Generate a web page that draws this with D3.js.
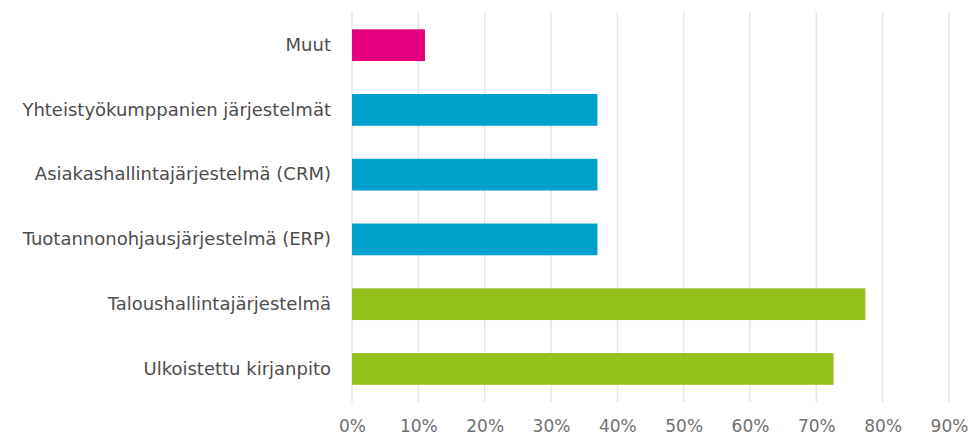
<!DOCTYPE html>
<html>
<head>
<meta charset="utf-8">
<script src="https://cdn.jsdelivr.net/npm/d3@7"></script>
<style>
  body { margin: 0; background: #fff; }
  svg text { font-family: "DejaVu Sans", sans-serif; }
</style>
</head>
<body>
<div id="container"></div>
<script>
let categories = [
  "Muut",
  "Yhteistyökumppanien järjestelmät",
  "Asiakashallintajärjestelmä (CRM)",
  "Tuotannonohjausjärjestelmä (ERP)",
  "Taloushallintajärjestelmä",
  "Ulkoistettu kirjanpito"
]
let values = [0.11, 0.37, 0.37, 0.37, 0.774, 0.726]
let groups = ["muut", "blue", "blue", "blue", "green", "green"]
let tickValues = [0, 0.1, 0.2, 0.3, 0.4, 0.5, 0.6, 0.7, 0.8, 0.9]

let colors = {muut: "#e5007d", blue: "#00a2cb", green: "#95c11f"}

let width = 974
let height = 439

function main() {
  let svg = d3.select('#container').append('svg')
    .attr('width', width)
    .attr('height', height)

  let xScale = d3.scaleLinear()
    .domain([0, 0.9])
    .range([352, 949])

  let yScale = d3.scaleBand()
    .domain(categories)
    .range([29.3, 384.8])
    .paddingInner(0.51)
    .paddingOuter(0)

  // gridlines
  svg.append('g')
    .selectAll('line')
    .data(tickValues)
    .enter()
    .append('line')
    .attr('x1', d => xScale(d))
    .attr('x2', d => xScale(d))
    .attr('y1', 12)
    .attr('y2', 402)
    .style('stroke', '#e6e6e6')
    .style('stroke-width', 1.5)

  // bars
  svg.append('g')
    .selectAll('rect')
    .data(categories)
    .enter()
    .append('rect')
    .attr('x', xScale(0))
    .attr('y', d => yScale(d))
    .attr('width', (d, i) => xScale(values[i]) - xScale(0))
    .attr('height', yScale.bandwidth())
    .style('fill', (d, i) => colors[groups[i]])

  // category labels
  let yAxis = d3.axisLeft(yScale).tickSize(0).tickPadding(21)
  let yg = svg.append('g')
    .attr('transform', 'translate(352,0)')
    .call(yAxis)
  yg.select('.domain').remove()
  yg.selectAll('text')
    .style('font-size', '18px')
    .style('fill', '#4d4d4d')

  // x axis labels
  let xAxis = d3.axisBottom(xScale)
    .tickValues(tickValues)
    .tickFormat(d3.format('.0%'))
    .tickSize(0)
    .tickPadding(0)
  let xg = svg.append('g')
    .attr('transform', 'translate(0,420)')
    .call(xAxis)
  xg.select('.domain').remove()
  xg.selectAll('text')
    .style('font-size', '17px')
    .style('fill', '#707070')
}

main()
</script>
</body>
</html>
